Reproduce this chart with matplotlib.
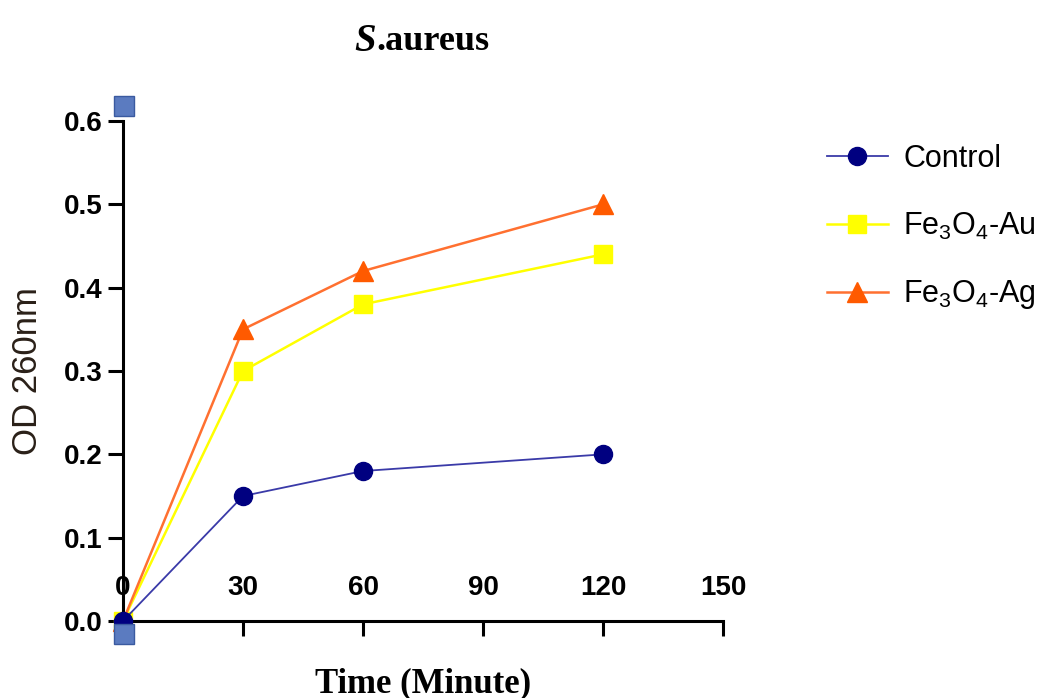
import matplotlib.pyplot as plt
import matplotlib.transforms as mtransforms

plt.rcParams['font.family'] = 'Liberation Sans'
plt.rcParams['mathtext.fontset'] = 'custom'
plt.rcParams['mathtext.rm'] = 'Liberation Sans'
plt.rcParams['mathtext.it'] = 'Liberation Sans'

# Data
time_min = [0, 30, 60, 120]
control = [0, 0.15, 0.18, 0.20]
fe3o4_au = [0, 0.30, 0.38, 0.44]
fe3o4_ag = [0, 0.35, 0.42, 0.50]

x_ticks = [0, 30, 60, 90, 120, 150]
y_ticks = [0.0, 0.1, 0.2, 0.3, 0.4, 0.5, 0.6]

fig = plt.figure(figsize=(10.45, 6.98), dpi=100)
ax = fig.add_axes([0.1177, 0.1103, 0.5742, 0.7163])

l1, = ax.plot(time_min, control, '-', color='#3a3aa8', linewidth=1.3,
              marker='o', markersize=13, markerfacecolor='#000080',
              markeredgecolor='#000080', clip_on=False, zorder=3)
l2, = ax.plot(time_min, fe3o4_au, '-', color='#ffff00', linewidth=1.8,
              marker='s', markersize=13, markerfacecolor='#ffff00',
              markeredgecolor='#ffff00', clip_on=False, zorder=2)
l3, = ax.plot(time_min, fe3o4_ag, '-', color='#ff7030', linewidth=1.8,
              marker='^', markersize=14, markerfacecolor='#ff5a00',
              markeredgecolor='#ff5a00', clip_on=False, zorder=2)

# GraphPad axis handles
top = mtransforms.offset_copy(ax.transData, fig=fig, x=1, y=11, units='points')
bot = mtransforms.offset_copy(ax.transData, fig=fig, x=1, y=-9, units='points')
ax.plot([0], [0.6], 's', markersize=14, markerfacecolor='#5b7bc0',
        markeredgecolor='#3a5aa0', transform=top, clip_on=False, zorder=5)
ax.plot([0], [0.0], 's', markersize=14, markerfacecolor='#5b7bc0',
        markeredgecolor='#3a5aa0', transform=bot, clip_on=False, zorder=5)

ax.set_xlim(0, 150)
ax.set_ylim(0, 0.6)
ax.set_xticks(x_ticks)
ax.set_yticks(y_ticks)
ax.set_xticklabels([str(t) for t in x_ticks], fontsize=20, fontweight='bold')
ax.set_yticklabels(['%.1f' % t for t in y_ticks], fontsize=20, fontweight='bold')

for side in ['top', 'right']:
    ax.spines[side].set_visible(False)
for side in ['left', 'bottom']:
    ax.spines[side].set_linewidth(2.2)

ax.tick_params(axis='y', direction='out', length=11, width=2.2, pad=4)
ax.tick_params(axis='x', direction='out', length=11, width=2.2, pad=-44)

ax.set_xlabel('Time (Minute)', fontsize=25, fontweight='bold',
              family='Liberation Serif', labelpad=22)
ax.set_ylabel('OD 260nm', fontsize=25, color='#2a2018', labelpad=14)

# title: italic S + .aureus
fig.text(0.36, 0.94, 'S', fontsize=28, fontweight='bold', style='italic',
         family='Liberation Serif', ha='right', va='center')
fig.text(0.36, 0.94, '.aureus', fontsize=26, fontweight='bold',
         family='Liberation Serif', ha='left', va='center')

fig.legend([l1, l2, l3], ['Control', r'Fe$_3$O$_4$-Au', r'Fe$_3$O$_4$-Ag'],
           loc='upper left', bbox_to_anchor=(0.765, 0.833), frameon=False,
           fontsize=22, labelspacing=1.2, handlelength=2.0, handletextpad=0.5)

fig.savefig('out.png', dpi=100)
